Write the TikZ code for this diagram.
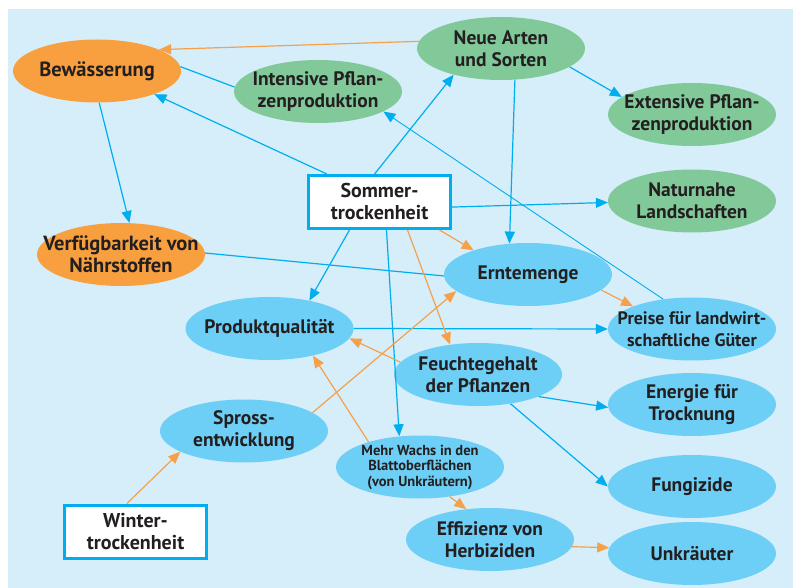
\documentclass[tikz,border=0pt]{standalone}
\usepackage{fontspec}
\setmainfont{PT Sans}
\usetikzlibrary{arrows.meta,shapes.geometric}
\definecolor{bgBlue}{HTML}{D5EEFA}
\definecolor{bubbleOrange}{HTML}{F8A03F}
\definecolor{bubbleGreen}{HTML}{82C99A}
\definecolor{bubbleBlue}{HTML}{6DCFF6}
\definecolor{lineBlue}{HTML}{00AEEF}
\definecolor{lineOrange}{HTML}{F7A04A}
\definecolor{inkDark}{HTML}{231F20}
\tikzset{
  bubble/.style={ellipse, minimum width=168pt, minimum height=63pt,
    inner xsep=-30pt, inner ysep=-12pt, align=center, text=inkDark,
    font=\bfseries\fontsize{19.5}{22}\selectfont},
  orangeBubble/.style={bubble, fill=bubbleOrange},
  greenBubble/.style={bubble, fill=bubbleGreen},
  blueBubble/.style={bubble, fill=bubbleBlue},
  droughtBox/.style={rectangle, draw=lineBlue, line width=3pt, fill=white,
    minimum width=142pt, minimum height=53pt, inner sep=0pt, align=center,
    text=inkDark, font=\bfseries\fontsize{20}{22}\selectfont},
  blueArrow/.style={draw=lineBlue, line width=1.2pt, -{Triangle[length=12pt,width=10pt]}},
  orangeArrow/.style={draw=lineOrange, line width=1.2pt, -{Triangle[length=12pt,width=10pt]}},
}
\begin{document}
\begin{tikzpicture}[x=1pt, y=-1pt]
% Drought web, coordinates taken from the sheet (origin top left)
\useasboundingbox (0,0) rectangle (793,588);
% Background
\fill[bgBlue] (8,9) rectangle (793,588);
% Orange nodes
\node[orangeBubble, font=\bfseries\fontsize{20.5}{22}\selectfont] (bew) at (97,71) {Bewässerung};
\node[orangeBubble, font=\bfseries\fontsize{20.5}{22}\selectfont] (verf) at (121,254.5) {Verfügbarkeit von\\Nährstoffen};
% Green nodes
\node[greenBubble] (int) at (318,91.5) {Intensive Pflan-\\zenproduktion};
\node[greenBubble] (neue) at (501,48.5) {Neue Arten\\und Sorten};
\node[greenBubble] (ext) at (692,114.5) {Extensive Pflan-\\zenproduktion};
\node[greenBubble] (natur) at (692,201) {Naturnahe\\Landschaften};
% Blue nodes
\node[blueBubble] (ernte) at (528,274.5) {Erntemenge};
\node[blueBubble] (prod) at (269.5,328.5) {Produktqualität};
\node[blueBubble, font=\bfseries\fontsize{18}{22}\selectfont] (preise) at (692,329) {Preise für landwirt-\\schaftliche Güter};
\node[blueBubble] (feucht) at (478,374.5) {Feuchtegehalt\\der Pflanzen};
\node[blueBubble] (energie) at (692,404.5) {Energie für\\Trocknung};
\node[blueBubble] (spross) at (244,431) {Spross-\\entwicklung};
\node[blueBubble, font=\bfseries\fontsize{14.5}{15.5}\selectfont] (wachs) at (420,467)
  {Mehr Wachs in den\\Blattoberflächen\\(von Unkräutern)};
\node[blueBubble] (fung) at (692,486.5) {Fungizide};
\node[blueBubble] (herb) at (490,539.5) {Effizienz von\\Herbiziden};
\node[blueBubble] (unkr) at (692,553.5) {Unkräuter};
% Drought boxes
\node[droughtBox] (som) at (379.5,202) {Sommer-\\trockenheit};
\node[droughtBox] (winter) at (135.5,531.5) {Winter-\\trockenheit};
% Blue connectors
\begin{scope}[blueArrow]
  \draw (som.152) -- (bew.-22);
  \draw (bew.-86) -- (verf.75);
  \draw (som.100) -- (neue.209);
  \draw (neue.-15) -- (ext.166);
  \draw (neue.-66) -- (ernte.121);
  \draw (som.-4) -- (natur.181);
  \draw (som.223) -- (prod.35);
  \draw (som.-76) -- (wachs.124);
  \draw (prod.east) -- (preise.west);
  \draw (feucht.-20) -- (energie.182);
  \draw (feucht.-42) -- (fung.180);
  \draw[line width=0.9pt] (preise.134) -- (int.-17);
  \draw[-] (bew.3) -- (int.177);
  \draw[-] (verf.1) -- (ernte.181);
\end{scope}
% Orange connectors
\begin{scope}[orangeArrow]
  \draw (neue.175) -- (bew.19);
  \draw (som.-25) -- (ernte.156);
  \draw (som.-45) -- (feucht.133);
  \draw (spross.15) -- (ernte.193);
  \draw (ernte.-12) -- (preise.159);
  \draw (feucht.171) -- (prod.-7);
  \draw (wachs.154) -- (prod.-32);
  \draw (winter.107) -- (spross.198);
  \draw (wachs.-45) -- (herb.128);
  \draw (herb.-5) -- (unkr.176);
\end{scope}
\end{tikzpicture}
\end{document}
